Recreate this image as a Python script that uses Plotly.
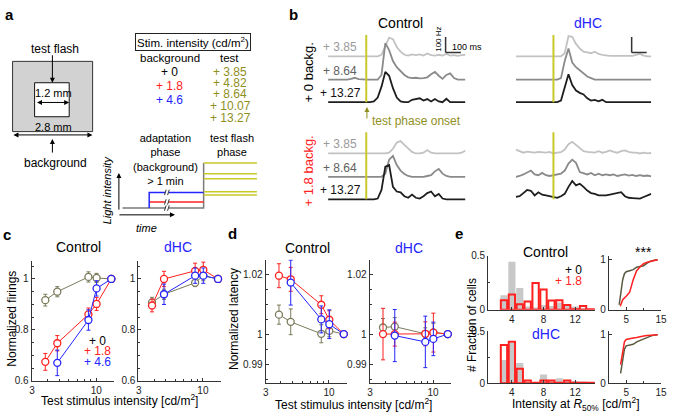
import math
import plotly.graph_objects as go

W, H = 675, 420
FONT = "Liberation Sans, Arial, sans-serif"
RED, BLUE, GREY = "#ff2020", "#2424ff", "#7b7b5c"
YEL, OLIVE = "#c9c92a", "#8f8f1c"

# ---------------- data ----------------
# panel a: stimulus protocol (cd/m2)
bg_levels = [0, 1.8, 4.6]
bg_text = ["+ 0", "+ 1.8", "+ 4.6"]
test_levels = [3.85, 4.82, 8.64, 10.07, 13.27]
phase_t = [0.28, 2.18, 6.06, 9.86]   # schematic time: start, adaptation, test flash, end
break_t = 3.45                       # "//" time break in the adaptation phase

# panel b: firing rate (Hz), sampled every 25 ms from -250 to 650 ms around test onset
t_ms = list(range(-250, 651, 25))
onset_ms = 0
b_labels = ["+ 3.85", "+ 8.64", "+ 13.27"]
b_offsets = [295, 145, 0]
b_colors = ["#c2c2c2", "#8a8a8a", "#1e1e1e"]
b_label_colors = ["#9a9a9a", "#606060", "#111111"]

ctrl0_385 = [0, 0, 0, 0, 0, 0, 0, 0, 0, 0, 0, 0, 0, 0, 10, 60, 120, 110, 60, 30, 10, 5, 12, 8, 12, 5, 18, 8, 5, 10, 5, 15, 5, 8, 3, 8, 10]
ctrl0_864 = [0, 0, 0, 0, 0, 0, 5, 12, 3, 0, 0, 0, 0, 0, 30, 235, 190, 120, 80, 55, 30, 15, 10, 12, 8, 10, 15, 35, 50, 25, 5, 30, 40, 10, 0, 0, 0]
ctrl0_1327 = [0, 0, 0, 0, 0, 0, 0, 0, 0, 0, 0, 0, 5, 30, 100, 195, 170, 90, 30, 5, 0, 0, 15, 18, 25, 10, 20, 5, 20, 5, 0, 22, 0, 0, 0, 0, 0]
dhc0_385 = [0, 0, 0, 0, 0, 0, 0, 0, 0, 0, 0, 0, 0, 20, 130, 125, 80, 50, 30, 25, 20, 30, 15, 10, 5, 3, 3, 3, 3, 3, 3, 3, 10, 15, 5, 0, 0]
dhc0_864 = [0, 0, 0, 0, 0, 0, 0, 0, 0, 0, 0, 0, 10, 120, 200, 110, 80, 60, 35, 20, 10, 0, 0, 0, 0, 0, 0, 0, 0, 0, 0, 0, 0, 0, 0, 0, 0]
dhc0_1327 = [0, 0, 0, 0, 0, 0, 0, 0, 0, 0, 0, 0, 10, 100, 180, 110, 75, 60, 50, 25, 10, 15, 5, 15, 0, 0, 0, 0, 0, 0, 0, 0, 0, 0, 0, 0, 0]
ctrl18_385 = [0, 0, 0, 0, 0, 0, 0, 0, 0, 0, 0, 0, 0, 0, 0, 0, 5, 30, 70, 80, 55, 35, 10, 0, 0, 5, 22, 5, 0, 0, 0, 0, 0, 0, 0, 5, 18]
ctrl18_864 = [0, 0, 0, 0, 0, 0, 0, 0, 0, 0, 0, 0, 0, 0, 0, 20, 110, 135, 75, 40, 18, 5, 0, 0, 0, 0, 5, 10, 35, 50, 20, 5, 0, 0, 0, 0, 0]
ctrl18_1327 = [0, 0, 0, 0, 0, 0, 0, 0, 0, 0, 0, 0, 0, 5, 60, 210, 220, 80, 50, 45, 20, 10, 30, 10, 5, 20, 40, 50, 20, 35, 5, 0, 0, 0, 0, 0, 0]
dhc18_385 = [25, 15, 5, 12, 10, 5, 10, 8, 5, 10, 0, 5, 8, 25, 60, 75, 55, 30, 15, 10, 8, 5, 15, 5, 10, 20, 10, 5, 15, 20, 10, 5, 5, 0, 5, 0, 3]
dhc18_864 = [0, 5, 15, 25, 40, 15, 10, 25, 10, 5, 10, 15, 20, 40, 85, 110, 90, 30, 20, 15, 25, 10, 20, 10, 15, 10, 15, 5, 10, 15, 8, 12, 5, 10, 5, 8, 3]
dhc18_1327 = [15, 20, 40, 60, 55, 25, 45, 30, 25, 20, 15, 10, 20, 35, 80, 118, 90, 100, 80, 56, 40, 35, 25, 25, 25, 30, 35, 40, 46, 20, 10, 8, 8, 5, 15, 25, 35]
scalebar_t, scalebar_y = 520, 320   # 100 Hz / 100 ms scale bar anchor

# panel c / d: test intensities
test_x = [3.85, 4.82, 8.64, 10.07, 13.27]
fir_ctrl_0 = [0.917, 0.950, 1.008, 1.004, 1.0]
fir_ctrl_0_err = [0.023, 0.02, 0.02, 0.018, 0]
fir_ctrl_18 = [0.675, 0.748, 0.861, 0.902, 1.0]
fir_ctrl_18_err = [0.033, 0.03, 0.025, 0.025, 0]
fir_ctrl_46 = [None, 0.671, 0.839, 0.963, 1.0]
fir_ctrl_46_err = [0, 0.05, 0.04, 0.03, 0]
fir_dhc_0 = [0.908, 0.94, 0.985, 1.013, 1.0]
fir_dhc_0_err = [0.02, 0.02, 0.015, 0.02, 0]
fir_dhc_18 = [0.896, 1.0, 1.032, 1.036, 1.0]
fir_dhc_18_err = [0.025, 0.03, 0.03, 0.03, 0]
fir_dhc_46 = [None, 0.94, 1.013, 1.013, 1.0]
fir_dhc_46_err = [0, 0.04, 0.03, 0.03, 0]

lat_ctrl_0 = [1.0065, 1.0041, 1.0001, 1.0011, 1.0]
lat_ctrl_0_err = [0.0032, 0.0043, 0.003, 0.002, 0]
lat_ctrl_18 = [1.0195, 1.0183, 1.0098, 1.0048, 1.0]
lat_ctrl_18_err = [0.004, 0.004, 0.003, 0.003, 0]
lat_ctrl_46 = [None, 1.0172, 1.0049, 1.0033, 1.0]
lat_ctrl_46_err = [0, 0.0075, 0.0045, 0.0048, 0]
lat_dhc_0 = [1.0022, 1.0025, 1.0001, 1.0006, 1.0]
lat_dhc_0_err = [0.003, 0.003, 0.002, 0.003, 0]
lat_dhc_18 = [1.0, 1.0, 1.0001, 1.0005, 1.0]
lat_dhc_18_err = [0.0086, 0.004, 0.004, 0.0065, 0]
lat_dhc_46 = [None, 0.9995, 0.9974, 0.9984, 1.0]
lat_dhc_46_err = [0, 0.0087, 0.0086, 0.0056, 0]

# panel e: histograms of intensity at R50%
bins = [3, 4, 5, 6, 7, 8, 9, 10, 11, 12, 13, 14]
hist_ctrl_0 = [0.136, 0.445, 0.203, 0.03, 0.02, 0.045, 0.036, 0.067, 0.045, 0.03, 0.015, 0]
hist_ctrl_18 = [0.088, 0.142, 0.052, 0.076, 0.248, 0.188, 0.085, 0.088, 0.045, 0.004, 0.036, 0.004]
hist_dhc_0 = [0.225, 0.39, 0.194, 0.01, 0, 0.084, 0.03, 0.047, 0.03, 0.022, 0.01, 0]
hist_dhc_18 = [0.369, 0.40, 0.14, 0.025, 0.004, 0.025, 0.025, 0.004, 0.025, 0.004, 0.004, 0.004]
cdf_ctrl_0_x = [3, 3.5, 4, 4.5, 5, 6, 7, 8, 9, 10, 11, 12, 13, 14]
cdf_ctrl_0 = [0.1, 0.35, 0.6, 0.72, 0.76, 0.78, 0.8, 0.85, 0.86, 0.88, 0.93, 0.97, 0.99, 1.0]
cdf_ctrl_18_x = [3.3, 4, 5, 6, 7, 8, 9, 10, 11, 12, 13, 14]
cdf_ctrl_18 = [0.07, 0.2, 0.27, 0.35, 0.6, 0.78, 0.86, 0.92, 0.95, 0.97, 0.99, 1.0]
cdf_dhc_0_x = [3.4, 4, 4.5, 5, 6, 7, 8, 9, 10, 11, 12, 13, 14]
cdf_dhc_0 = [0.2, 0.5, 0.7, 0.77, 0.78, 0.8, 0.85, 0.88, 0.92, 0.95, 0.97, 0.99, 1.0]
cdf_dhc_18_x = [3.4, 4, 4.5, 5, 6, 7, 8, 9, 10, 11, 12, 13, 14]
cdf_dhc_18 = [0.38, 0.7, 0.85, 0.9, 0.92, 0.93, 0.94, 0.96, 0.97, 0.98, 0.99, 1.0, 1.0]


fig = go.Figure()


def names(n):
    return ("x", "y") if n == 1 else (f"x{n}", f"y{n}")


def set_axes(n, x0, x1, y0, y1, xopt, yopt):
    # domains given in pixels (y0 = top, y1 = bottom)
    xn, yn = names(n)
    suf = "" if n == 1 else str(n)
    fig.update_layout({
        "xaxis" + suf: dict(domain=[x0 / W, x1 / W], anchor=yn, **xopt),
        "yaxis" + suf: dict(domain=[1 - y1 / H, 1 - y0 / H], anchor=xn, **yopt),
    })


AX = dict(showline=True, linecolor="#333", linewidth=1, ticks="inside", ticklen=3,
          tickcolor="#333", showgrid=False, zeroline=False, tickfont=dict(size=10, color="#222"))
LOGX = dict(type="log", range=[math.log10(2.98), math.log10(14)], tickvals=[3, 10], ticktext=["3", "10"],
            minor=dict(tickvals=[4, 5, 6, 7, 8, 9], ticks="inside", ticklen=2, tickcolor="#333"), **AX)

# axes: 1 schematic, 2-5 traces, 6-7 firing, 8-9 latency, 10-13 histograms / cdf
set_axes(1, 118, 260, 150, 212, dict(visible=False, range=[0, 10]), dict(visible=False, range=[-1.143, 16.57]))
trace_x = dict(visible=False, range=[-250, 650])
trace_y = dict(visible=False, range=[-18.75, 456.25])
set_axes(2, 330, 469, 26, 102, trace_x, trace_y)
set_axes(3, 520, 657, 26, 102, trace_x, trace_y)
set_axes(4, 330, 469, 126, 202, trace_x, trace_y)
set_axes(5, 520, 657, 126, 202, trace_x, trace_y)

fir_y = dict(range=[0.6, 1.0724], tickvals=[0.6, 0.8, 1.0], ticktext=["0.6", "0.8", "1"],
             minor=dict(tickvals=[0.65, 0.7, 0.75, 0.85, 0.9, 0.95, 1.05], ticks="inside", ticklen=2, tickcolor="#333"), **AX)
set_axes(6, 30, 113.5, 262, 386, LOGX, fir_y)
set_axes(7, 138, 221.5, 262, 386, LOGX, fir_y)
lat_y = dict(range=[0.9837, 1.0249], tickvals=[0.99, 1.0, 1.02], ticktext=["0.99", "1", "1.02"],
             minor=dict(tickvals=[0.985, 0.995, 1.005, 1.01, 1.015], ticks="inside", ticklen=2, tickcolor="#333"), **AX)
set_axes(8, 266.7, 348.7, 261, 388, LOGX, lat_y)
set_axes(9, 372, 454, 261, 388, LOGX, lat_y)

hist_x = dict(range=[1, 14.5], tickvals=[4, 8, 12], **AX)
hist_y = dict(range=[0, 0.5], tickvals=[0, 0.5], ticktext=["0", "0.5"],
              minor=dict(tickvals=[0.25], ticks="inside", ticklen=2, tickcolor="#333"), **AX)
cdf_x = dict(range=[0, 15], tickvals=[5, 15], minor=dict(tickvals=[10], ticks="inside", ticklen=2, tickcolor="#333"), **AX)
set_axes(10, 492, 600, 257.3, 312.7, hist_x, hist_y)
set_axes(11, 614, 667, 257, 312.7, cdf_x, dict(range=[0, 1.08], tickvals=[0, 1], **AX))
set_axes(12, 492, 600, 335, 388.3, hist_x, hist_y)
set_axes(13, 614, 667, 335, 388.3, cdf_x, dict(range=[0, 1.066], tickvals=[0, 1], **AX))


def line(n, x, y, color, width=1.5):
    xn, yn = names(n)
    fig.add_trace(go.Scatter(x=x, y=y, mode="lines", line=dict(color=color, width=width),
                             xaxis=xn, yaxis=yn, hoverinfo="skip", cliponaxis=False))


# ---- panel a schematic ----
line(1, [phase_t[0], phase_t[2], phase_t[2]], [bg_levels[0], bg_levels[0], test_levels[-1]], "#7a7a7a")
line(1, [phase_t[1], phase_t[2]], [bg_levels[1], bg_levels[1]], RED)
line(1, [phase_t[1], phase_t[1], phase_t[2]], [bg_levels[0], bg_levels[2], bg_levels[2]], BLUE)
for v in test_levels:
    line(1, [phase_t[2], phase_t[3]], [v, v], YEL)

shapes = []
annotations = []
# "//" break marks on the adaptation phase lines
for v in bg_levels:
    shapes.append(dict(type="line", xref="x", yref="y", x0=break_t - 0.12, x1=break_t + 0.12, y0=v, y1=v,
                       line=dict(color="white", width=3)))
    for dx in (-0.12, 0.1):
        shapes.append(dict(type="line", xref="x", yref="y", x0=break_t + dx - 0.06, x1=break_t + dx + 0.06,
                           y0=v - 0.8, y1=v + 0.8, line=dict(color="#333", width=1)))

# ---- panel b traces ----
groups = [
    (2, [ctrl0_385, ctrl0_864, ctrl0_1327]),
    (3, [dhc0_385, dhc0_864, dhc0_1327]),
    (4, [ctrl18_385, ctrl18_864, ctrl18_1327]),
    (5, [dhc18_385, dhc18_864, dhc18_1327]),
]
for n, rates in groups:
    xn, yn = names(n)
    shapes.append(dict(type="line", xref=xn, yref=yn, x0=onset_ms, x1=onset_ms, y0=0, y1=432,
                       line=dict(color=YEL, width=2)))
    for r, off, col in zip(rates, b_offsets, b_colors):
        line(n, t_ms, [v + off for v in r], col, 1.8)
    if n in (2, 4):
        for lab, off, lc in zip(b_labels, b_offsets, b_label_colors):
            annotations.append(dict(text=lab, x=-170, y=off, xref=xn, yref=yn, showarrow=False,
                                    xanchor="center", yanchor="bottom", font=dict(size=12, color=lc)))
    if n in (2, 3):
        shapes.append(dict(type="line", xref=xn, yref=yn, x0=scalebar_t, x1=scalebar_t,
                           y0=scalebar_y, y1=scalebar_y + 100, line=dict(color="#333", width=1.5)))
        shapes.append(dict(type="line", xref=xn, yref=yn, x0=scalebar_t, x1=scalebar_t + 100,
                           y0=scalebar_y, y1=scalebar_y, line=dict(color="#333", width=1.5)))


# ---- panels c / d ----
def series(n, y, err, col):
    xn, yn = names(n)
    fig.add_trace(go.Scatter(
        x=test_x, y=y, mode="lines+markers", xaxis=xn, yaxis=yn, cliponaxis=False,
        line=dict(color=col, width=1),
        marker=dict(symbol="circle", size=7, color="white", line=dict(color=col, width=1.3)),
        error_y=dict(type="data", array=err, color=col, thickness=1, width=2),
        hoverinfo="skip"))


series(6, fir_ctrl_0, fir_ctrl_0_err, GREY)
series(6, fir_ctrl_18, fir_ctrl_18_err, RED)
series(6, fir_ctrl_46, fir_ctrl_46_err, BLUE)
series(7, fir_dhc_0, fir_dhc_0_err, GREY)
series(7, fir_dhc_18, fir_dhc_18_err, RED)
series(7, fir_dhc_46, fir_dhc_46_err, BLUE)
series(8, lat_ctrl_0, lat_ctrl_0_err, GREY)
series(8, lat_ctrl_18, lat_ctrl_18_err, RED)
series(8, lat_ctrl_46, lat_ctrl_46_err, BLUE)
series(9, lat_dhc_0, lat_dhc_0_err, GREY)
series(9, lat_dhc_18, lat_dhc_18_err, RED)
series(9, lat_dhc_46, lat_dhc_46_err, BLUE)


# ---- panel e ----
def hist(n, g, r):
    xn, yn = names(n)
    fig.add_trace(go.Bar(x=bins, y=g, width=0.9, marker=dict(color="#c8c8c8", line=dict(width=0)),
                         xaxis=xn, yaxis=yn, hoverinfo="skip"))
    fig.add_trace(go.Bar(x=bins, y=r, width=0.8, marker=dict(color="rgba(0,0,0,0)", line=dict(color=RED, width=2)),
                         xaxis=xn, yaxis=yn, hoverinfo="skip"))


hist(10, hist_ctrl_0, hist_ctrl_18)
hist(12, hist_dhc_0, hist_dhc_18)
line(11, cdf_ctrl_0_x, cdf_ctrl_0, "#5a5a40", 1.5)
line(11, cdf_ctrl_18_x, cdf_ctrl_18, RED, 1.5)
line(13, cdf_dhc_0_x, cdf_dhc_0, "#5a5a40", 1.5)
line(13, cdf_dhc_18_x, cdf_dhc_18, RED, 1.5)


# ---- text / decorations in paper pixels ----
def txt(s, x, y, size=11, color="black", **kw):
    d = dict(text=s, x=x / W, y=1 - y / H, xref="paper", yref="paper", showarrow=False,
             font=dict(size=size, color=color), xanchor="center", yanchor="middle")
    d.update(kw)
    return d


def arrow(x, y, tx, ty, color="black", side="end"):
    return dict(text="", x=x / W, y=1 - y / H, xref="paper", yref="paper", ax=tx - x, ay=ty - y,
                showarrow=True, arrowhead=2, startarrowhead=2, arrowsize=1, arrowwidth=1,
                arrowcolor=color, arrowside=side)


def rect(x0, y0, x1, y1, fill, col):
    return dict(type="rect", xref="paper", yref="paper", x0=x0 / W, x1=x1 / W, y0=1 - y1 / H, y1=1 - y0 / H,
                fillcolor=fill, line=dict(color=col, width=1), layer="below")


shapes += [rect(10.7, 57, 91.7, 129.3, "#d2d2d2", "#333"), rect(33, 79, 68, 114, "white", "#111")]

annotations += [
    txt("<b>a</b>", 8, 9, 15), txt("<b>b</b>", 295, 9, 15), txt("<b>c</b>", 5, 235, 15),
    txt("<b>d</b>", 233, 234, 15), txt("<b>e</b>", 462, 234, 15),
    # panel a
    txt("test flash", 54, 44, 12), arrow(51, 79, 51, 50),
    txt("1.2 mm", 52, 90), arrow(68, 99.3, 34.3, 99.3, side="end+start"),
    txt("2.8 mm", 52, 125), arrow(91.5, 132.7, 11, 132.7, side="end+start"),
    arrow(51, 137, 51, 152), txt("background", 54, 162, 12),
    txt("Stim. intensity (cd/m<sup>2</sup>)", 193, 37, 11.5, bordercolor="#222", borderwidth=1, borderpad=1),
    txt("background", 170, 54, 11.5), txt("test", 230, 54, 11.5),
    txt("adaptation<br>phase<br>(background)<br>> 1 min", 165, 157.5, 11),
    txt("test flash<br>phase", 233, 143.5, 11),
    txt("<i>Light intensity</i>", 106, 189, 11, textangle=-90),
    arrow(118.3, 172, 118.3, 210), arrow(175, 215, 118, 215),
    txt("<i>time</i>", 146, 229, 11),
    # panel b
    txt("Control", 403, 17, 14), txt("dHC", 593, 17, 14, BLUE),
    txt("100 Hz", 441, 34, 8, textangle=-90), txt("100 ms", 471, 42, 9),
    txt("+ 0 backg.", 310, 68, 13, textangle=-90),
    txt("+ 1.8 backg.", 310, 170, 13, RED, textangle=-90),
    arrow(369.3, 104, 369.3, 117, OLIVE), txt("test phase onset", 372, 118, 12, OLIVE, xanchor="left"),
    # panel c
    txt("Control", 77, 248, 14), txt("dHC", 178, 248, 14, BLUE),
    txt("+ 0", 97, 345, 12), txt("+ 1.8", 97, 355.5, 12, RED), txt("+ 4.6", 97, 366, 12, BLUE),
    txt("Normalized firings", 10, 322, 12, textangle=-90),
    txt("Test stimulus intensity [cd/m<sup>2</sup>]", 119, 406, 12),
    # panel d
    txt("Control", 309, 249, 14), txt("dHC", 412, 249, 14, BLUE),
    txt("Normalized latency", 235, 322, 12, textangle=-90),
    txt("Test stimulus intensity [cd/m<sup>2</sup>]", 356, 410, 12),
    # panel e
    txt("Control", 550, 253, 14), txt("dHC", 551, 338, 14, BLUE), txt("***", 649, 253, 14),
    txt("+ 0", 589, 272, 12, xanchor="right"), txt("+ 1.8", 589, 283, 12, RED, xanchor="right"),
    txt("# Fraction of cells", 475, 328, 12, textangle=-90),
    txt("Intensity at <i>R</i><sub>50%</sub> [cd/m<sup>2</sup>]", 581, 410, 12),
]
for v, lab, col, yy in zip(bg_levels, bg_text, ["black", RED, BLUE], [68, 82.5, 97]):
    annotations.append(txt(lab, 170, yy, 12, col))
for v, yy in zip(test_levels, [67.5, 79.5, 91, 103, 115]):
    annotations.append(txt(f"+ {v:g}", 231, yy, 12, OLIVE))

fig.update_layout(
    width=W, height=H, margin=dict(l=0, r=0, t=0, b=0), autosize=False,
    paper_bgcolor="white", plot_bgcolor="white", showlegend=False, barmode="overlay",
    font=dict(family=FONT, color="black"),
    shapes=shapes, annotations=annotations,
)
fig.write_html("out.html", config={"displayModeBar": False},
               post_script="document.body.style.margin='0px';")
